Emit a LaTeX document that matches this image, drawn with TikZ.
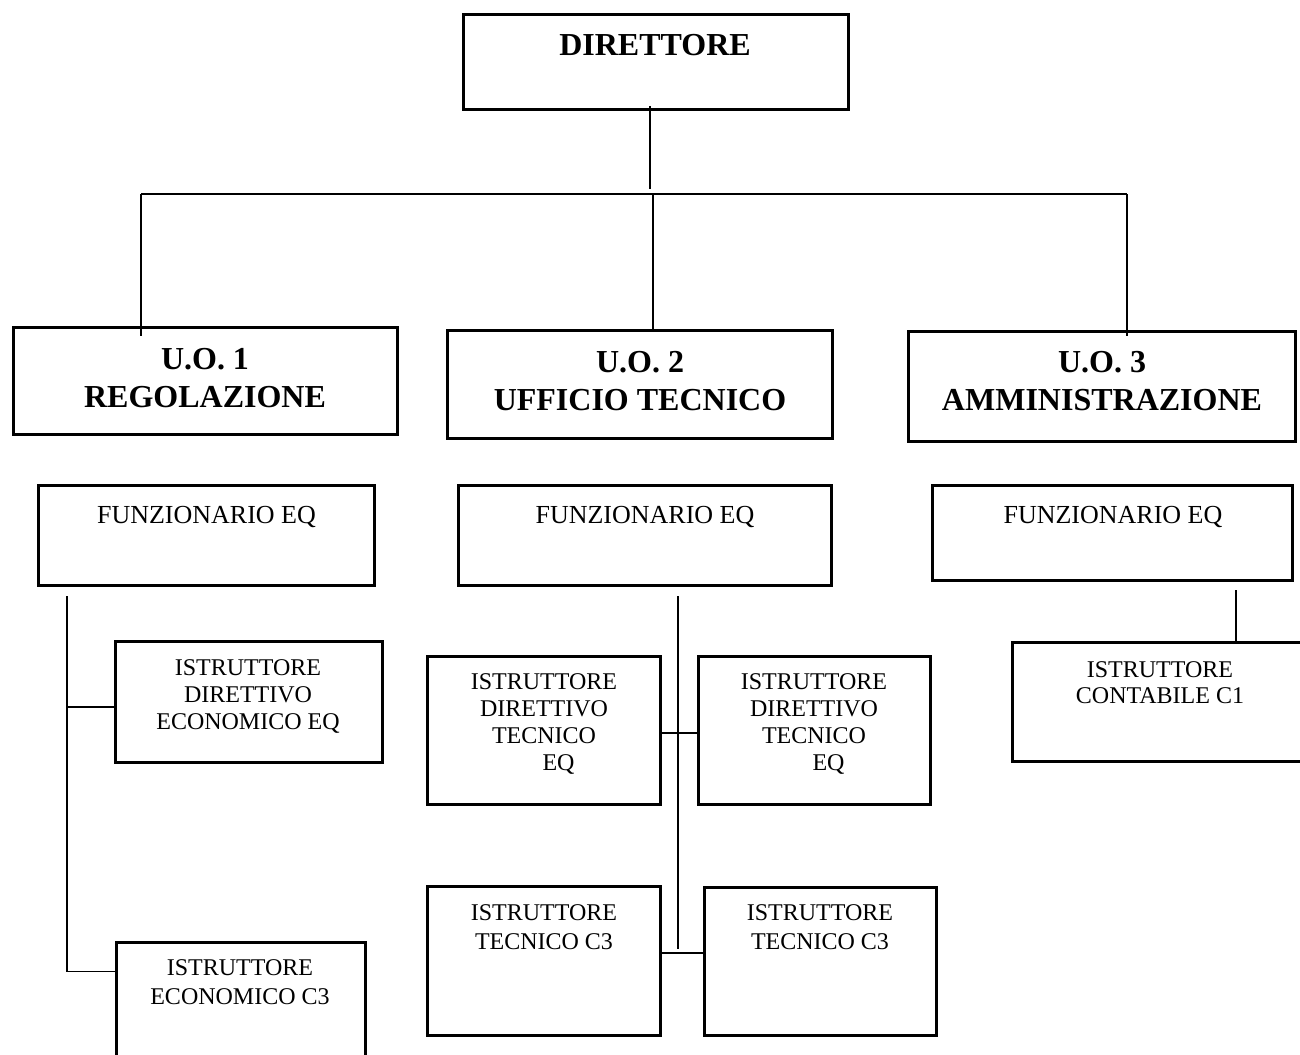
\documentclass[tikz,border=0pt]{standalone}
\usepackage{fontspec}
\setmainfont{Liberation Serif}
\usetikzlibrary{calc}
\tikzset{
  box/.style={draw=black, line width=2.8pt, rectangle, inner sep=0pt},
  wire/.style={draw=black, line width=1.6pt},
  lbl/.style={inner sep=0pt, anchor=base, align=center},
  bt/.style={lbl, font=\fontsize{32}{37.5}\selectfont\bfseries},
  ft/.style={lbl, font=\fontsize{26}{29}\selectfont},
  rt/.style={lbl, font=\fontsize{24}{27}\selectfont},
  rtw/.style={lbl, font=\fontsize{24}{29.5}\selectfont},
}
\begin{document}
\begin{tikzpicture}[x=1pt,y=-1pt]
\useasboundingbox (0,0) rectangle (1300,1054);
\clip (0,0) rectangle (1300,1054);
\fill[white] (0,0) rectangle (1300,1054);

% boxes
\node[box, minimum width=385pt, minimum height=95pt] (dir) at (656,62) {};
\node[box, minimum width=384.4pt, minimum height=107.4pt] (uo1) at (205.5,381) {};
\node[box, minimum width=385.4pt, minimum height=108.4pt] (uo2) at (640,384.5) {};
\node[box, minimum width=387.4pt, minimum height=110.4pt] (uo3) at (1102,386.5) {};
\node[box, minimum width=336.4pt, minimum height=100.4pt] (f1) at (206.5,535.5) {};
\node[box, minimum width=373.4pt, minimum height=100.4pt] (f2) at (645,535.5) {};
\node[box, minimum width=360.4pt, minimum height=95.4pt] (f3) at (1112.5,533) {};
\node[box, minimum width=267.4pt, minimum height=121.4pt] (ide) at (249,702) {};
\node[box, minimum width=249.4pt, minimum height=136.4pt] (iec) at (241,1010.5) {};
\node[box, minimum width=233.4pt, minimum height=148.4pt] (idt1) at (544,730.5) {};
\node[box, minimum width=232.4pt, minimum height=148.4pt] (idt2) at (814.5,730.5) {};
\node[box, minimum width=233.4pt, minimum height=149.4pt] (itc1) at (544,961) {};
\node[box, minimum width=232.4pt, minimum height=148.4pt] (itc2) at (820.5,961.5) {};
\node[box, minimum width=296.4pt, minimum height=119.4pt] (ic1) at (1160.5,702) {};

% texts (anchor = baseline of the last line)
\node[bt] (tdir) at (655,56) {DIRETTORE};
\node[bt] (tuo1) at (205,407) {U.O. 1\\REGOLAZIONE};
\node[bt] (tuo2) at (640,410) {U.O. 2\\UFFICIO TECNICO};
\node[bt] (tuo3) at (1102,410) {U.O. 3\\AMMINISTRAZIONE};
\node[ft] (tf1) at (206.5,523) {FUNZIONARIO EQ};
\node[ft] (tf2) at (645,523) {FUNZIONARIO EQ};
\node[ft] (tf3) at (1113,523) {FUNZIONARIO EQ};
\node[rt] (tide) at (248,729) {ISTRUTTORE\\DIRETTIVO\\ECONOMICO EQ};
\node[rtw] (tiec) at (240,1004.5) {ISTRUTTORE\\ECONOMICO C3};
\node[rt] (tidt1) at (544,770) {ISTRUTTORE\\DIRETTIVO\\TECNICO\\\hspace*{29pt}EQ};
\node[rt] (tidt2) at (814,770) {ISTRUTTORE\\DIRETTIVO\\TECNICO\\\hspace*{29pt}EQ};
\node[rtw] (titc1) at (544,949.5) {ISTRUTTORE\\TECNICO C3};
\node[rtw] (titc2) at (820,949.5) {ISTRUTTORE\\TECNICO C3};
\node[font=\fontsize{24}{26}\selectfont, inner sep=0pt, anchor=base, align=center] (tic1) at (1160,703) {ISTRUTTORE\\CONTABILE C1};

% junction coordinates
\coordinate (jd) at (650,189);
\coordinate (hl) at (141,194);
\coordinate (hm) at (653,194);
\coordinate (hr) at (1127,194);
\coordinate (vl) at (67,596);
\coordinate (vlb) at (67,971.5);
\coordinate (vm) at (678,596);
\coordinate (vmb) at (678,949);
\coordinate (vr) at (1236,590);

% connectors
\draw[wire] ($(dir.south -| jd)+(0,-5)$) -- (jd);
\draw[wire] (hl) -- (hr);
\draw[wire] (hl) -- ($(uo1.north -| hl)+(0,10)$);
\draw[wire] (hm) -- (uo2.north -| hm);
\draw[wire] (hr) -- ($(uo3.north -| hr)+(0,6)$);

\draw[wire] (vl) -- (vlb);
\draw[wire] (vl |- 0,707) -- (ide.west |- 0,707);
\draw[wire] (vlb) -- (iec.west |- vlb);

\draw[wire] (vm) -- (vmb);
\draw[wire] (idt1.east |- 0,733) -- (idt2.west |- 0,733);
\draw[wire] (itc1.east |- 0,953) -- (itc2.west |- 0,953);

\draw[wire] (vr) -- (ic1.north -| vr);
\end{tikzpicture}
\end{document}
